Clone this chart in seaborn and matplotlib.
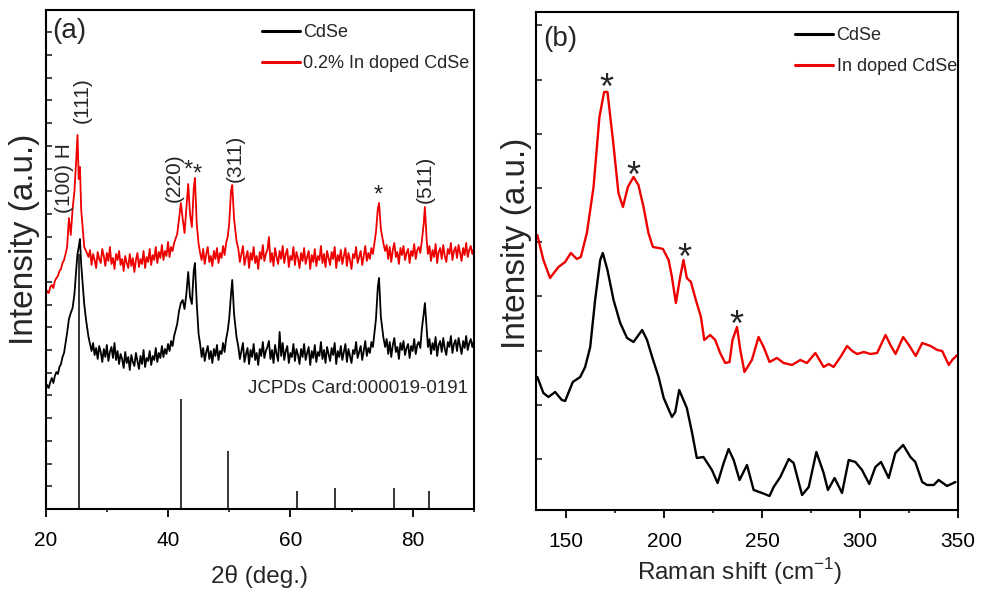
import numpy as np
import pandas as pd
import seaborn as sns
import matplotlib.pyplot as plt
from matplotlib.ticker import MultipleLocator

sns.set_theme(style='white')
plt.rcParams['font.family'] = ['Liberation Sans', 'DejaVu Sans']
plt.rcParams['mathtext.fontset'] = 'custom'
plt.rcParams['mathtext.rm'] = 'Liberation Sans'
RED = '#ee0000'

# ---- (a) XRD data, intensity in arbitrary units ----
# sampling grid: 0.25 deg steps on the background, finer points around peaks
xrd_2theta = np.concatenate([
    np.arange(20, 23.51, 0.25),
    [23.8, 24.1, 24.4, 24.7, 25.0, 25.2, 25.4, 25.6, 25.8, 26.0, 26.3, 26.6],
    np.arange(27, 41.01, 0.25),
    [41.5, 41.8, 42.1, 42.4, 42.7, 43.0, 43.3, 43.6, 43.9, 44.2, 44.4, 44.7, 45.0],
    np.arange(45.25, 49.76, 0.25),
    [50.0, 50.3, 50.5, 50.8, 51.2],
    np.arange(51.5, 73.76, 0.25),
    [74.0, 74.3, 74.5, 74.8, 75.2],
    np.arange(75.5, 81.51, 0.25),
    [81.8, 82.0, 82.3],
    np.arange(82.5, 90.01, 0.25),
])
xrd_cdse = [
    119, 124, 121, 127, 131, 126, 133, 137, 135, 142, 145, 152, 156, 166, 176,
    190, 196, 201, 215, 240, 255, 262, 270, 245, 229, 205, 189,
    172, 165, 158, 166, 154, 161, 150, 163, 157, 147,
    160, 152, 164, 148, 157, 162, 151, 166, 149, 158,
    145, 155, 150, 141, 157, 146, 152, 139, 154, 147,
    143, 156, 148, 140, 153, 145, 159, 142, 151, 148,
    158, 144, 153, 149, 161, 147, 156, 151, 163, 152,
    160, 155, 165, 158, 168, 163, 173,
    185, 198, 206, 209, 200, 215, 237, 212, 205, 238, 246, 205, 175,
    165, 152, 161, 148, 157, 163, 150, 158, 146, 160,
    153, 164, 149, 158, 155, 166, 157, 170, 178,
    190, 215, 229, 195, 172,
    162, 150, 158, 166, 147, 155, 161, 145, 159, 152,
    165, 149, 156, 144, 160, 153, 167, 151, 158, 162,
    168, 150, 159, 146, 164, 155, 148, 177, 153, 166,
    149, 158, 163, 146, 156, 152, 165, 148, 160, 154,
    145, 160, 152, 165, 149, 156, 162, 144, 158, 151,
    164, 147, 157, 153, 167, 150, 159, 146, 162, 155,
    148, 161, 154, 166, 145, 158, 152, 163, 149, 157,
    165, 147, 160, 153, 146, 159, 155, 167, 151, 157,
    163, 149, 158, 168, 153, 161, 156, 167, 162, 176,
    190, 222, 231, 192, 172,
    162, 170, 155, 167, 152, 164, 171, 157, 162, 150,
    166, 159, 168, 154, 161, 165, 151, 163, 158, 170,
    155, 164, 167, 161, 180,
    195, 206, 180,
    162, 170, 155, 166, 159, 172, 153, 164, 168, 157,
    171, 160, 154, 167, 162, 173, 156, 165, 169, 158,
    171, 163, 155, 168, 161, 173, 159, 166, 170, 162, 168,
]
xrd_doped = [
    214, 218, 216, 222, 224, 221, 228, 231, 233, 238, 240, 246, 249, 255, 262,
    291, 274, 300, 318, 350, 374, 330, 342, 300, 285, 262, 258,
    252, 259, 244, 255, 249, 241, 257, 250, 246, 260,
    253, 243, 256, 248, 262, 245, 251, 240, 255, 249,
    258, 244, 250, 238, 253, 246, 241, 255, 243, 251,
    237, 249, 256, 242, 250, 245, 258, 241, 252, 247,
    260, 244, 254, 249, 262, 246, 257, 251, 264, 249,
    258, 253, 267, 252, 262, 258, 266,
    275, 290, 306, 290, 276, 300, 325, 295, 282, 320, 331, 285, 265,
    256, 249, 260, 245, 255, 262, 247, 253, 243, 258,
    250, 261, 246, 256, 251, 263, 254, 266, 272,
    285, 318, 324, 290, 268,
    260, 247, 255, 263, 244, 252, 258, 241, 256, 249,
    262, 246, 253, 240, 257, 250, 264, 248, 255, 259,
    272, 247, 256, 243, 261, 252, 245, 258, 250, 263,
    246, 255, 260, 242, 253, 249, 262, 244, 257, 251,
    241, 256, 248, 261, 245, 252, 258, 240, 254, 247,
    260, 243, 253, 249, 263, 246, 255, 242, 258, 251,
    244, 257, 250, 262, 241, 254, 248, 259, 245, 253,
    261, 243, 256, 249, 240, 255, 251, 262, 246, 252,
    258, 244, 253, 263, 248, 256, 250, 261, 255, 266,
    277, 300, 306, 280, 266,
    258, 264, 250, 262, 247, 259, 266, 252, 257, 245,
    261, 254, 263, 249, 256, 260, 246, 258, 253, 265,
    250, 259, 262, 256, 268,
    285, 302, 268,
    255, 263, 248, 259, 252, 265, 246, 257, 261, 250,
    264, 253, 247, 260, 255, 266, 249, 258, 262, 251,
    264, 256, 248, 261, 254, 266, 252, 259, 263, 255, 260,
]
jcpds_2theta = [25.4, 42.15, 49.85, 61.1, 67.25, 77.0, 82.6]
jcpds_int = [255, 110, 58, 18, 21, 21, 18]

xrd_peak_labels = ['(100) H', '(111)', '(220)', '(311)', '(511)']
xrd_peak_x = [23.15, 25.95, 41.05, 50.95, 82.0]
xrd_peak_y = [296, 386, 307, 327, 306]
xrd_star_x = [43.35, 44.8, 74.3]
xrd_star_y = [346, 342, 321]

# ---- (b) Raman data ----
raman_shift_cdse = [
    135.3, 138.4, 141, 144.4, 147.8, 149.5, 153.4, 157.2, 159.7, 162.3, 164.8,
    167.4, 168.7, 171.1, 174.2, 177.6, 181.1, 184.4, 188.8, 191.3, 193.9, 197.2,
    199.8, 204, 205.7, 207.7, 211.6, 214.2, 216.7, 220.1, 224.4, 227.3, 230.4,
    232.9, 235.5, 238.5, 242.3, 245.7, 250, 253.8, 255.9, 259.3, 263.6, 266.1,
    270.4, 273.8, 277.7, 281.4, 283.6, 287, 290.8, 294.2, 297.6, 301, 304.7,
    307.8, 310.7, 314.6, 318, 322, 325.7, 328.2, 331.7, 334.2, 337.6, 340.1,
    344.4, 348.7,
]
raman_cdse = [
    133, 117, 113, 118, 110, 109, 128, 133, 143, 163, 210,
    250, 257, 240, 210, 187, 172, 168, 180, 170, 153, 133,
    112, 93, 98, 120, 102, 78, 52, 53, 40, 27, 47,
    61, 50, 30, 45, 20, 17, 14, 23, 33, 51, 47,
    15, 23, 58, 37, 20, 32, 17, 50, 48, 40, 26,
    43, 48, 32, 57, 65, 53, 48, 28, 25, 25, 30,
    24, 28,
]
raman_shift_doped = [
    135.3, 138.4, 141.8, 146.1, 149.5, 152.4, 155.5, 157.5, 160.6, 164, 167,
    169.4, 171.1, 173.9, 176.7, 179, 181.5, 184.4, 186.9, 189.5, 192, 194.3,
    197.2, 199.4, 202.3, 204, 206, 208.2, 209.9, 211.6, 213.7, 216.2, 218.8,
    220.5, 223.5, 226.1, 228.6, 231.2, 233.4, 234.9, 237.2, 238.9, 241, 244.8,
    248.2, 250.8, 253.8, 257.6, 261, 265.3, 269.5, 272.9, 277.2, 281.4, 284,
    286.5, 290, 293.4, 296, 298.5, 301.9, 305.3, 308.7, 313, 315.5, 318.1,
    322, 324.9, 328.4, 331.7, 336, 339.4, 341.9, 345.3, 347, 349.6,
]
raman_doped = [
    275, 250, 232, 243, 248, 257, 251, 253, 277, 323, 393,
    418, 418, 370, 317, 303, 323, 333, 325, 303, 277, 263,
    262, 261, 250, 233, 207, 233, 250, 232, 228, 210, 193,
    170, 175, 170, 157, 147, 148, 170, 183, 160, 138, 150,
    173, 163, 148, 152, 147, 145, 150, 147, 157, 143, 146,
    143, 153, 164, 159, 156, 158, 156, 157, 175, 165, 156,
    173, 165, 154, 167, 164, 160, 159, 145, 150, 155,
]
raman_star_x = [170.4, 184.4, 210.5, 237.1]
raman_star_y = [432, 344, 262, 195]

fig = plt.figure(figsize=(9.89, 5.96), dpi=100)
ax1 = fig.add_axes([0.0462, 0.146, 0.4329, 0.8372])
ax2 = fig.add_axes([0.5417, 0.1443, 0.4270, 0.8356])

# (a)
sns.lineplot(x=xrd_2theta, y=xrd_cdse, ax=ax1, color='black', lw=1.3,
             estimator=None, label='CdSe')
sns.lineplot(x=xrd_2theta, y=xrd_doped, ax=ax1, color=RED, lw=1.3,
             estimator=None, label='0.2% In doped CdSe')
ax1.vlines(jcpds_2theta, 0, jcpds_int, color='black', lw=1.1)
ax1.set_xlim(20, 90)
ax1.set_ylim(0, 499)
ax1.xaxis.set_major_locator(MultipleLocator(20))
ax1.xaxis.set_minor_locator(MultipleLocator(10))
ax1.yaxis.set_major_locator(MultipleLocator(22.7))
ax1.set_xlabel('2\u03b8 (deg.)', fontsize=17.5)
ax1.set_ylabel('Intensity (a.u.)', fontsize=24)
ax1.xaxis.set_label_coords(0.5, -0.112)
ax1.yaxis.set_label_coords(-0.013, 0.54)

ax1.text(21.0, 471, '(a)', fontsize=20, ha='left', va='baseline')
for lab, x, y in zip(xrd_peak_labels, xrd_peak_x, xrd_peak_y):
    ax1.text(x, y, lab, fontsize=15, rotation=90, rotation_mode='anchor',
             ha='left', va='center')
for x, y in zip(xrd_star_x, xrd_star_y):
    ax1.annotate('*', xy=(x, y), xytext=(0, -0.57 * 17), textcoords='offset points',
                 ha='center', va='baseline', fontsize=17)
ax1.text(89.0, 116, 'JCPDs Card:000019-0191', ha='right', va='baseline',
         fontsize=13.5)

# (b)
sns.lineplot(x=raman_shift_cdse, y=raman_cdse, ax=ax2, color='black', lw=1.7,
             estimator=None, label='CdSe')
sns.lineplot(x=raman_shift_doped, y=raman_doped, ax=ax2, color=RED, lw=1.7,
             estimator=None, label='In doped CdSe')
ax2.set_xlim(134.5, 350)
ax2.set_ylim(0, 498)
ax2.xaxis.set_major_locator(MultipleLocator(50))
ax2.xaxis.set_minor_locator(MultipleLocator(25))
ax2.set_yticks([51 + 54.2 * k for k in range(9)])
ax2.set_xlabel('Raman shift (cm$^{\\mathregular{-1}}$)', fontsize=17.5)
ax2.set_ylabel('Intensity (a.u.)', fontsize=24)
ax2.xaxis.set_label_coords(0.484, -0.092)
ax2.yaxis.set_label_coords(-0.009, 0.535)

ax2.text(138.3, 464, '(b)', fontsize=20, ha='left', va='baseline')
for x, y in zip(raman_star_x, raman_star_y):
    ax2.annotate('*', xy=(x, y), xytext=(0, -0.57 * 26), textcoords='offset points',
                 ha='center', va='baseline', fontsize=26)

legend_pos = {ax1: (0.505, 0.972), ax2: (0.614, 0.970)}
for ax in (ax1, ax2):
    for s in ax.spines.values():
        s.set_linewidth(1.5)
        s.set_color('black')
    ax.tick_params(axis='x', which='major', direction='out', length=5.8, width=1.3,
                   bottom=True, labelsize=15, pad=10, colors='black')
    ax.tick_params(axis='x', which='minor', direction='out', length=2.5, width=1.3,
                   bottom=True)
    ax.tick_params(axis='y', which='major', direction='in', length=4, width=1.2,
                   left=True, labelleft=False)
    leg = ax.legend(loc='upper left', bbox_to_anchor=legend_pos[ax], frameon=False,
                    fontsize=13, handlelength=2.1, handletextpad=0.2,
                    labelspacing=0.8, borderpad=0, borderaxespad=0)
    for line in leg.get_lines():
        line.set_linewidth(2.2)

fig.savefig('out.png', dpi=100)
